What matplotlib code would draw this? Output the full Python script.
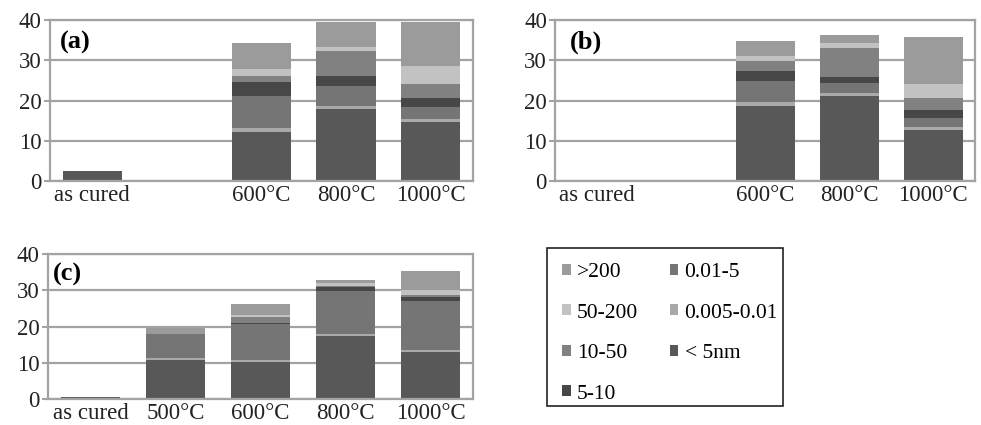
import matplotlib
matplotlib.use("Agg")
import matplotlib.pyplot as plt
from matplotlib.patches import Patch, Rectangle
import numpy as np

plt.rcParams['font.family'] = ['Liberation Serif', 'DejaVu Serif']

cats_ab = ["as cured", "", "600°C", "800°C", "1000°C"]
cats_c = ["as cured", "500°C", "600°C", "800°C", "1000°C"]

# stacking order, bottom to top
series = ["< 5nm", "0.005-0.01", "0.01-5", "5-10", "10-50", "50-200", ">200"]
colors = ["#585858", "#a9a9a9", "#757575", "#474747", "#818181", "#c2c2c2", "#9b9b9b"]

# panel (a)
a_lt5 = [2.5, 0, 12.3, 17.9, 14.6]
a_005 = [0, 0, 0.9, 0.85, 0.8]
a_001_5 = [0, 0, 7.9, 4.85, 3.0]
a_5_10 = [0, 0, 3.5, 2.5, 2.3]
a_10_50 = [0, 0, 1.5, 6.2, 3.3]
a_50_200 = [0, 0, 1.8, 0.9, 4.6]
a_gt200 = [0, 0, 6.5, 6.3, 10.9]

# panel (b)
b_lt5 = [0, 0, 18.75, 21.1, 12.75]
b_005 = [0, 0, 0.85, 0.65, 0.65]
b_001_5 = [0, 0, 5.2, 2.5, 2.3]
b_5_10 = [0, 0, 2.5, 1.5, 2.05]
b_10_50 = [0, 0, 2.5, 7.2, 2.95]
b_50_200 = [0, 0, 1.3, 1.35, 3.3]
b_gt200 = [0, 0, 3.7, 1.85, 11.7]

# panel (c)
c_lt5 = [0.7, 10.7, 10.2, 17.3, 12.9]
c_005 = [0, 0.65, 0.6, 0.7, 0.7]
c_001_5 = [0, 6.65, 10.0, 11.8, 13.5]
c_5_10 = [0, 0, 0.2, 1.0, 1.2]
c_10_50 = [0, 0, 1.6, 0.3, 0.3]
c_50_200 = [0, 0, 0.7, 0.9, 1.4]
c_gt200 = [0, 1.6, 3.0, 0.9, 5.4]

grid_col = "#a3a3a3"
W, H = 981, 425


def draw_panel(ax, cats, stacks, tag, tag_x):
    x = np.arange(len(cats))
    bottom = np.zeros(len(cats))
    for vals, col in zip(stacks, colors):
        vals = np.array(vals, dtype=float)
        ax.bar(x, vals, 0.7, bottom=bottom, color=col, linewidth=0, zorder=2)
        bottom += vals
    ax.set_xlim(-0.5, len(cats) - 0.5)
    ax.set_ylim(0, 40)
    ax.set_yticks([0, 10, 20, 30, 40])
    ax.set_xticks(x)
    ax.set_xticklabels(cats, fontsize=16.5)
    ax.tick_params(axis='x', length=0, pad=3, colors='#222222')
    ax.tick_params(axis='y', length=4, width=1.5, color=grid_col, labelsize=16.5,
                   labelcolor='#222222', pad=2)
    ax.yaxis.grid(True, color=grid_col, linewidth=1.6, zorder=1)
    ax.set_axisbelow(True)
    for s in ax.spines.values():
        s.set_color(grid_col)
        s.set_linewidth(1.6)
    ax.text(tag_x, 0.86, tag, transform=ax.transAxes, fontsize=19,
            fontweight='bold', va='center', ha='left', zorder=3)


fig = plt.figure(figsize=(W / 100, H / 100), dpi=100)
ax_a = fig.add_axes([0.051, 0.574, 0.431, 0.379])
ax_b = fig.add_axes([0.566, 0.574, 0.428, 0.379])
ax_c = fig.add_axes([0.049, 0.061, 0.433, 0.341])

draw_panel(ax_a, cats_ab, [a_lt5, a_005, a_001_5, a_5_10, a_10_50, a_50_200, a_gt200], "(a)", 0.024)
draw_panel(ax_b, cats_ab, [b_lt5, b_005, b_001_5, b_5_10, b_10_50, b_50_200, b_gt200], "(b)", 0.036)
draw_panel(ax_c, cats_c, [c_lt5, c_005, c_001_5, c_5_10, c_10_50, c_50_200, c_gt200], "(c)", 0.012)

# legend box drawn by hand, entries top of stack first, filled column-wise
fig.patches.append(Rectangle((547 / W, 1 - 406 / H), 236 / W, 158 / H, transform=fig.transFigure,
                             fill=False, edgecolor='#222222', linewidth=1.2))
handles = [Patch(facecolor=c, edgecolor='none') for c in colors[::-1]]
labels = series[::-1]
leg = fig.legend(handles, labels, loc='upper left', bbox_to_anchor=(562 / W, 1 - 263 / H),
                 ncol=2, frameon=False, fontsize=15.5,
                 handlelength=0.4, handleheight=0.4, handletextpad=0.3,
                 labelspacing=1.0, columnspacing=1.45, borderpad=0, borderaxespad=0)

fig.savefig("out.png", dpi=100)
